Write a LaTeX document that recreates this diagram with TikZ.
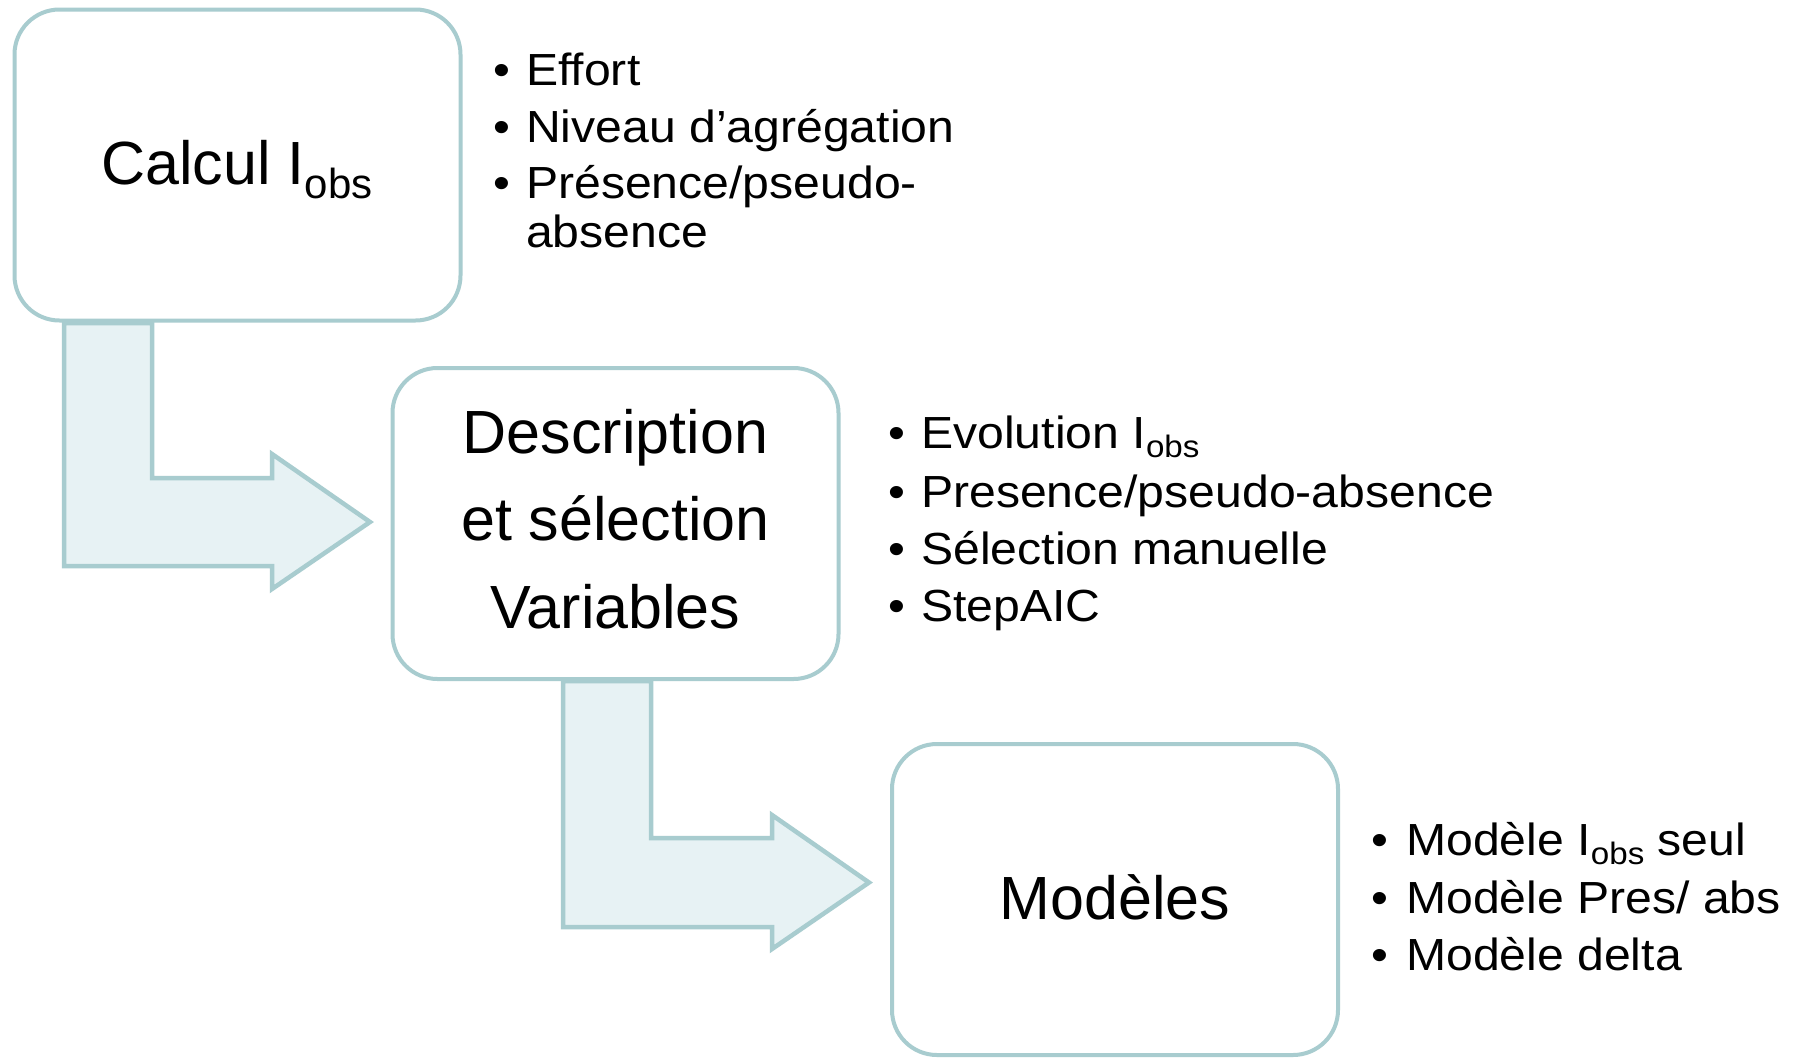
\documentclass[tikz,border=0pt]{standalone}
\usepackage{fontspec}
\setmainfont{Liberation Sans}
\newfontfamily\bulfont[FakeStretch=1.07]{Liberation Sans}
\definecolor{edgec}{RGB}{168,204,207}
\definecolor{fillc}{RGB}{231,242,244}
\newcommand{\bigsub}[1]{\raisebox{-14pt}{\fontsize{42}{42}\selectfont #1}}
\newcommand{\smallsub}[1]{\raisebox{-9pt}{\fontsize{31}{31}\selectfont #1}}
\begin{document}
\begin{tikzpicture}[x=1pt,y=-1pt,
  box/.style={draw=edgec, line width=4pt, rounded corners=45pt, minimum width=446pt, minimum height=311pt, inner sep=0pt, fill=white},
  barrow/.style={draw=edgec, fill=fillc, line width=4.5pt, line join=miter},
  boxtxt/.style={font=\fontsize{61}{61}\selectfont, inner sep=0pt, anchor=base},
  bul/.style={font=\bulfont\fontsize{45}{45}\selectfont, inner sep=0pt, anchor=base},
  itemtxt/.style={font=\bulfont\fontsize{45}{45}\selectfont, inner sep=0pt, anchor=base west}]
\useasboundingbox (0,0) rectangle (1796,1058);
\fill[white] (0,0) rectangle (1796,1058);

% boxes
\node[box] (b1) at (237.5,165) {};
\node[box] (b2) at (615.5,523.5) {};
\node[box] (b3) at (1115,899.5) {};

% bent block arrows
\draw[barrow] (64,323) -- (64,566) -- (272,566) -- (272,589) -- (370,522) -- (272,454) -- (272,478) -- (152,478) -- (152,323) -- cycle;
\draw[barrow] (563,681) -- (563,927) -- (772,927) -- (772,949) -- (869,882.5) -- (772,815) -- (772,838) -- (651,838) -- (651,681) -- cycle;

% box texts
\node[boxtxt] (t1) at (237,184) {Calcul I\bigsub{obs}};
\node[boxtxt] (t2a) at (615.5,453) {Description};
\node[boxtxt] (t2b) at (615.5,540) {et sélection};
\node[boxtxt] (t2c) at (615.5,628) {Variables};
\node[boxtxt] (t3) at (1115,919) {Modèles};

% list 1
\node[bul] (d11) at (502,85) {•};
\node[itemtxt] (i11) at (526,85) {Effort};
\node[bul] (d12) at (502,142) {•};
\node[itemtxt] (i12) at (526,142) {Niveau d’agrégation};
\node[bul] (d13) at (502,198) {•};
\node[itemtxt] (i13) at (526,198) {Présence/pseudo-};
\node[itemtxt] (i13b) at (526,247) {absence};

% list 2
\node[bul] (d21) at (897,448) {•};
\node[itemtxt] (i21) at (921,448) {Evolution I\smallsub{obs}};
\node[bul] (d22) at (897,507) {•};
\node[itemtxt] (i22) at (921,507) {Presence/pseudo-absence};
\node[bul] (d23) at (897,564) {•};
\node[itemtxt] (i23) at (921,564) {Sélection manuelle};
\node[bul] (d24) at (897,621) {•};
\node[itemtxt] (i24) at (921,621) {StepAIC};

% list 3
\node[bul] (d31) at (1380,855) {•};
\node[itemtxt] (i31) at (1406,855) {Modèle I\smallsub{obs} seul};
\node[bul] (d32) at (1380,913) {•};
\node[itemtxt] (i32) at (1406,913) {Modèle Pres/ abs};
\node[bul] (d33) at (1380,970) {•};
\node[itemtxt] (i33) at (1406,970) {Modèle delta};
\end{tikzpicture}
\end{document}
